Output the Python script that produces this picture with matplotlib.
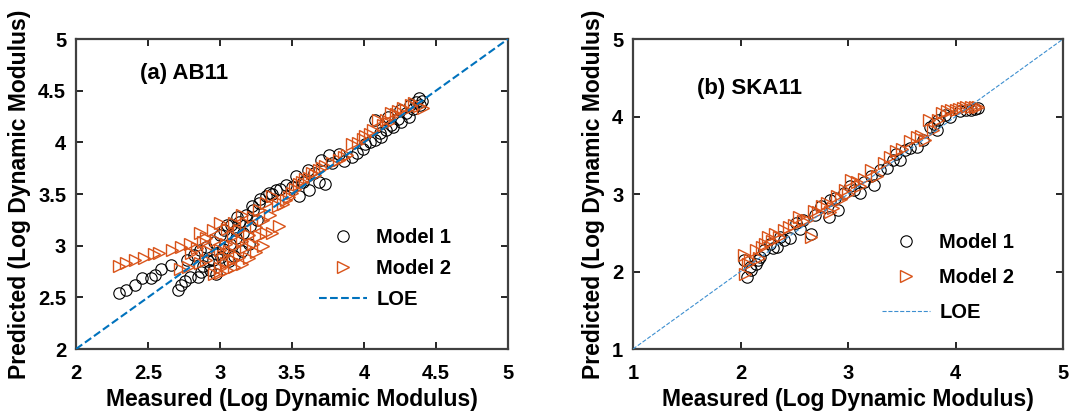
import matplotlib
matplotlib.use('Agg')
import matplotlib.pyplot as plt
from matplotlib.lines import Line2D

plt.rcParams['font.family'] = ['Liberation Sans', 'DejaVu Sans']
plt.rcParams['font.weight'] = 'bold'

# (a) AB11 - measured vs predicted log dynamic modulus
ab_m1_x = [2.30, 2.35, 2.41, 2.46, 2.52, 2.55, 2.59, 2.66,
           2.71, 2.73, 2.76, 2.79, 2.85, 2.87, 2.93, 2.97,
           2.77, 2.82, 2.86, 2.90, 2.96, 3.00, 3.03, 3.08, 3.11, 3.13,
           3.18, 3.23, 3.27, 3.32, 3.34, 3.39, 3.46, 3.53, 3.55, 3.61,
           3.62, 3.69, 3.70, 3.73, 3.76, 3.83, 3.92, 3.99, 4.01, 4.08,
           4.11, 4.08, 4.15, 4.19, 4.17, 4.24, 4.25, 4.29, 4.32, 4.36,
           4.38, 4.39, 3.07, 3.11, 3.16, 3.21, 3.26, 2.95, 3.01,
           2.88, 2.92, 2.98, 3.02, 3.06, 3.10, 3.15, 3.20, 3.05, 3.12,
           3.22, 3.28, 3.36, 3.42, 3.50, 3.58, 3.65, 3.78, 3.86, 3.95,
           4.04, 4.12, 4.20, 4.26, 4.31, 4.34, 4.40]
ab_m1_y = [2.54, 2.57, 2.62, 2.69, 2.69, 2.72, 2.77, 2.81,
           2.57, 2.62, 2.66, 2.70, 2.70, 2.75, 2.76, 2.73,
           2.86, 2.91, 2.96, 2.99, 3.04, 3.10, 3.15, 3.20, 3.15, 3.23,
           3.30, 3.35, 3.41, 3.48, 3.51, 3.54, 3.59, 3.67, 3.48, 3.73,
           3.54, 3.62, 3.83, 3.60, 3.88, 3.89, 3.86, 3.94, 3.98, 4.02,
           4.09, 4.22, 4.12, 4.17, 4.25, 4.23, 4.31, 4.28, 4.36, 4.39,
           4.43, 4.36, 3.02, 3.07, 3.12, 3.19, 3.25, 2.86, 2.89,
           2.80, 2.85, 2.92, 2.97, 2.85, 2.90, 2.95, 3.02, 3.20, 3.28,
           3.38, 3.45, 3.50, 3.55, 3.57, 3.62, 3.70, 3.80, 3.82, 3.90,
           4.00, 4.05, 4.15, 4.20, 4.25, 4.32, 4.40]
ab_m2_x = [2.30, 2.35, 2.41, 2.47, 2.54, 2.58, 2.67, 2.73, 2.79,
           2.72, 2.78, 2.86, 2.90, 2.96, 3.00, 3.04, 3.09, 3.13,
           3.00, 3.04, 3.09, 3.13, 3.18, 3.23, 3.27, 3.32, 3.36,
           2.95, 3.00, 2.86, 2.90, 3.18, 3.23, 3.27, 3.32, 3.36, 3.41,
           3.46, 3.50, 3.55, 3.59, 3.64, 3.69, 3.73, 3.78, 3.83, 3.88,
           3.92, 3.96, 4.01, 4.06, 4.10, 4.13, 4.17, 4.19, 4.24, 4.29,
           4.33, 4.38, 4.41,
           2.80, 2.84, 2.88, 2.92, 2.97, 3.02, 3.06, 3.10, 3.15, 3.20,
           3.25, 3.30, 3.35, 3.40, 3.15, 3.10, 3.05, 3.44, 3.48, 3.52,
           3.57, 3.62, 3.66, 3.71, 3.86, 3.99, 4.04, 4.15, 4.22, 4.27,
           4.35, 3.00, 3.05, 3.10, 3.15, 3.20, 3.25, 3.30]
ab_m2_y = [2.80, 2.83, 2.86, 2.88, 2.92, 2.93, 2.96, 2.99, 3.02,
           2.77, 2.79, 2.83, 2.86, 2.73, 2.78, 2.83, 2.86, 2.89,
           2.96, 3.02, 3.09, 3.15, 3.22, 3.28, 3.35, 3.41, 3.48,
           3.15, 3.22, 3.12, 3.07, 2.99, 3.02, 3.09, 3.12, 3.12, 3.19,
           3.44, 3.51, 3.60, 3.65, 3.70, 3.73, 3.77, 3.80, 3.83, 3.88,
           3.98, 3.99, 4.06, 4.12, 4.22, 4.17, 4.19, 4.28, 4.30, 4.31,
           4.36, 4.35, 4.33,
           2.93, 2.98, 3.04, 2.95, 3.06, 2.90, 2.95, 3.00, 3.05, 3.10,
           3.18, 3.25, 3.30, 3.38, 3.30, 3.22, 3.16, 3.40, 3.47, 3.55,
           3.62, 3.66, 3.68, 3.75, 3.86, 4.03, 4.08, 4.22, 4.27, 4.33,
           4.38, 2.74, 2.76, 2.79, 2.82, 2.88, 2.94, 3.00]

# (b) SKA11
ska_m1_x = [2.03, 2.06, 2.09, 2.14, 2.18, 2.27, 2.34, 2.40, 2.46, 2.52,
            2.58, 2.66, 2.69, 2.82, 2.83, 2.91, 2.96, 3.02, 3.11, 3.21,
            3.24, 3.30, 3.36, 3.42, 3.48, 3.53, 3.64, 3.70, 3.76, 3.83,
            3.84, 3.95, 4.04, 4.14, 4.21,
            2.10, 2.16, 2.22, 2.30, 2.37, 2.55, 2.75, 2.88, 3.06, 3.15,
            3.45, 3.58, 3.80, 3.90, 4.10, 4.18]
ska_m1_y = [2.15, 1.93, 2.06, 2.10, 2.19, 2.36, 2.32, 2.41, 2.43, 2.62,
            2.66, 2.49, 2.73, 2.71, 2.92, 2.79, 3.01, 3.10, 3.01, 3.23,
            3.12, 3.31, 3.33, 3.44, 3.44, 3.57, 3.61, 3.70, 3.87, 3.83,
            3.96, 4.00, 4.07, 4.09, 4.11,
            2.02, 2.15, 2.28, 2.30, 2.45, 2.55, 2.85, 2.95, 3.05, 3.15,
            3.52, 3.60, 3.90, 4.02, 4.08, 4.10]
ska_m2_x = [2.03, 2.04, 2.07, 2.14, 2.20, 2.26, 2.32, 2.40, 2.45, 2.54,
            2.62, 2.66, 2.72, 2.80, 2.83, 2.86, 2.93, 2.97, 3.03, 3.11,
            3.21, 3.27, 3.33, 3.39, 3.45, 3.58, 3.64, 3.72, 3.75, 3.79,
            3.84, 3.92, 4.00, 4.07, 4.14, 4.21,
            2.09, 2.17, 2.23, 2.29, 2.36, 2.50, 2.58, 2.68, 2.76, 2.90,
            3.00, 3.08, 3.15, 3.50, 3.68, 3.87, 3.96, 4.03, 4.10, 4.18]
ska_m2_y = [2.21, 1.97, 2.10, 2.28, 2.32, 2.45, 2.49, 2.54, 2.58, 2.71,
            2.66, 2.45, 2.77, 2.88, 2.77, 2.82, 2.94, 3.05, 3.18, 3.10,
            3.31, 3.23, 3.40, 3.48, 3.55, 3.68, 3.74, 3.70, 3.96, 3.83,
            3.96, 4.07, 4.09, 4.11, 4.12, 4.12,
            2.15, 2.18, 2.35, 2.40, 2.45, 2.60, 2.65, 2.78, 2.85, 2.98,
            3.00, 3.15, 3.20, 3.58, 3.75, 4.05, 4.09, 4.10, 4.12, 4.12]

black = '#000000'
orange = '#D95319'
blue = '#0072BD'

fig = plt.figure(figsize=(10.7, 4.2), dpi=100)
ax1 = fig.add_axes([0.071, 0.169, 0.4037, 0.738])
ax2 = fig.add_axes([0.5916, 0.169, 0.4019, 0.738])


def panel(ax, lo, hi, mx, my, tx, ty, ticks, tag, tagpos, lw_loe, loe_color,
          legpos, legspace, ylab_x):
    ax.plot([lo, hi], [lo, hi], '--', color=loe_color, lw=lw_loe, zorder=3)
    ax.plot(mx, my, 'o', mfc='none', mec=black, ms=8.2, mew=0.8, ls='none', zorder=2)
    ax.plot(tx, ty, '>', mfc='none', mec=orange, ms=9, mew=1.0, ls='none', zorder=2)
    ax.set_xlim(lo, hi)
    ax.set_ylim(lo, hi)
    ax.set_xticks(ticks)
    ax.set_yticks(ticks)
    ax.set_xticklabels(['%g' % t for t in ticks], fontsize=14.5, fontweight='bold')
    ax.set_yticklabels(['%g' % t for t in ticks], fontsize=14.5, fontweight='bold')
    ax.tick_params(direction='in', top=True, right=True, length=5, width=1.2, colors='#000000')
    ax.tick_params(axis='x', pad=10.5)
    ax.tick_params(axis='y', pad=7)
    for s in ax.spines.values():
        s.set_linewidth(1.6)
        s.set_color('#404040')
    ax.set_xlabel('Measured (Log Dynamic Modulus)', fontsize=16.5, fontweight='bold')
    ax.set_ylabel('Predicted (Log Dynamic Modulus)', fontsize=16.5, fontweight='bold')
    ax.xaxis.set_label_coords(0.5, -0.125)
    ax.yaxis.set_label_coords(ylab_x, 0.5)
    ax.text(tagpos[0], tagpos[1], tag, transform=ax.transAxes, fontsize=16, fontweight='bold',
            va='center', ha='left')
    handles = [Line2D([], [], marker='o', ls='none', mfc='none', mec=black, ms=8.2, mew=0.8),
               Line2D([], [], marker='>', ls='none', mfc='none', mec=orange, ms=9, mew=1.0),
               Line2D([], [], ls='--', color=loe_color, lw=lw_loe)]
    ax.legend(handles, ['Model 1', 'Model 2', 'LOE'], loc='upper left',
              bbox_to_anchor=legpos, frameon=False, prop={'weight': 'bold', 'size': 14.5},
              handlelength=2.4, labelspacing=legspace, handletextpad=0.45,
              borderpad=0, borderaxespad=0)


panel(ax1, 2, 5, ab_m1_x, ab_m1_y, ab_m2_x, ab_m2_y, [2, 2.5, 3, 3.5, 4, 4.5, 5],
      '(a) AB11', (0.148, 0.89), 1.5, blue, (0.5625, 0.39), 0.6, -0.104)
panel(ax2, 1, 5, ska_m1_x, ska_m1_y, ska_m2_x, ska_m2_y, [1, 2, 3, 4, 5],
      '(b) SKA11', (0.149, 0.842), 0.8, '#3D8FD0', (0.579, 0.375), 0.8, -0.065)

fig.savefig('out.png', dpi=100)
